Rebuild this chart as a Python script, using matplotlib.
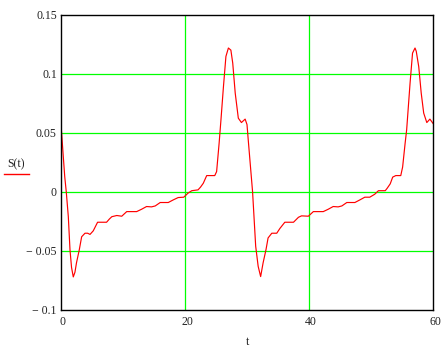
import matplotlib
matplotlib.use("Agg")
import matplotlib.pyplot as plt
import matplotlib.transforms as mtransforms
from matplotlib.lines import Line2D

# S(t), first period
t1 = [0, 0.3, 0.6, 0.85, 1.18, 1.45, 1.7, 1.98, 2.25, 2.5, 2.95, 3.33, 3.87, 4.3,
      4.68, 5.2, 5.9, 6.6, 7.35, 7.8, 8.2, 9.0, 9.8, 10.6, 11.4, 12.2, 13.0, 13.8,
      14.6, 15.2, 16.0, 17.3, 18.1, 18.9, 19.8, 20.5, 21.1, 22.1, 22.5, 22.95, 23.5,
      24.8, 25.1, 25.5, 25.8, 26.2, 26.6, 27.0, 27.4, 27.7, 28.1, 28.6, 29.1, 29.7]
s1 = [0.057, 0.035, 0.013, 0.0, -0.021, -0.049, -0.064, -0.072, -0.068, -0.060,
      -0.049, -0.038, -0.035, -0.035, -0.036, -0.033, -0.0257, -0.0257, -0.0257,
      -0.023, -0.021, -0.020, -0.0206, -0.0167, -0.0167, -0.0167, -0.0147, -0.0124,
      -0.0127, -0.0119, -0.009, -0.009, -0.0068, -0.0048, -0.0045, -0.001, 0.001,
      0.0017, 0.004, 0.0073, 0.0138, 0.0138, 0.0172, 0.041, 0.061, 0.089, 0.1147,
      0.1218, 0.120, 0.109, 0.0836, 0.0624, 0.0587, 0.0616]

# second period
t2 = [30.0, 30.2, 30.9, 31.4, 31.8, 32.2, 32.6, 33.06, 33.4, 34.0, 34.8, 35.3,
      36.1, 37.5, 38.3, 38.8, 39.9, 40.7, 42.3, 43.1, 43.9, 44.7, 45.3, 46.1, 47.4,
      48.2, 49.0, 49.8, 50.6, 51.2, 52.3, 52.6, 53.1, 53.5, 54.0, 54.8, 55.1, 55.5,
      55.75, 56.3, 56.7, 57.1, 57.3, 57.7, 58.1, 58.5, 59.0, 59.5, 60.0]
s2 = [0.057, 0.044, 0.0, -0.046, -0.063, -0.0717, -0.060, -0.049, -0.039, -0.035,
      -0.035, -0.031, -0.0257, -0.0257, -0.0215, -0.0203, -0.0206, -0.0167, -0.0167,
      -0.0147, -0.0124, -0.0127, -0.0119, -0.009, -0.009, -0.0068, -0.0045, -0.0045,
      -0.002, 0.001, 0.001, 0.003, 0.0068, 0.0125, 0.0138, 0.0138, 0.021, 0.041,
      0.0525, 0.092, 0.1175, 0.1218, 0.119, 0.106, 0.0836, 0.0667, 0.0587, 0.0616,
      0.058]

x_ticks = [0, 20, 40, 60]
y_ticks = [-0.1, -0.05, 0, 0.05, 0.1, 0.15]
y_labels = ["\u2212 0.1", "\u2212 0.05", "0", "0.05", "0.1", "0.15"]

plt.rcParams["font.family"] = ["Liberation Serif", "DejaVu Serif"]

fig = plt.figure(figsize=(4.48, 3.49), dpi=100)
ax = fig.add_axes([61 / 448, 1 - 310 / 349, 372 / 448, (310 - 14.7) / 349])

ax.plot(t1 + t2, s1 + s2, color="red", lw=0.85)

ax.set_xlim(0, 60)
ax.set_ylim(-0.1, 0.15)
ax.set_xticks(x_ticks)
ax.set_xticklabels([str(v) for v in x_ticks])
ax.set_yticks(y_ticks)
ax.set_yticklabels(y_labels)
ax.tick_params(length=0, labelsize=8.5, colors="#222222", pad=4)
ax.tick_params(axis="y", pad=3)

# mathcad puts the x labels a touch right of the tick
shift = mtransforms.ScaledTranslation(2 / 100, 0, fig.dpi_scale_trans)
for lab in ax.get_xticklabels():
    lab.set_transform(lab.get_transform() + shift)

for v in [20, 40]:
    ax.axvline(v, color="#00ff00", lw=0.9, zorder=0)
for v in [-0.05, 0, 0.05, 0.1]:
    ax.axhline(v, color="#00ff00", lw=0.9, zorder=0)

for sp in ax.spines.values():
    sp.set_linewidth(1.0)
    sp.set_color("black")

fig.text(248 / 448, 1 - 342 / 349, "t", ha="center", va="center", fontsize=8.5, color="#222222")
fig.text(16 / 448, 1 - 164 / 349, "S(t)", ha="center", va="center", fontsize=8.5, color="#222222")
fig.add_artist(Line2D([4 / 448, 29 / 448], [1 - 174 / 349, 1 - 174 / 349], color="red", lw=1.0))

fig.savefig("out.png", dpi=100)
